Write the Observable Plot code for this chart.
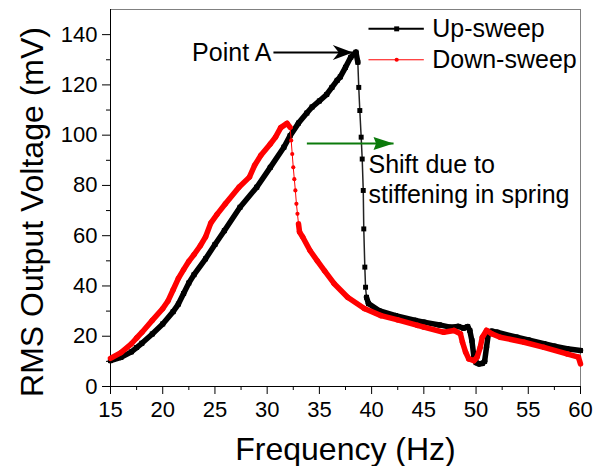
<!DOCTYPE html>
<html><head><meta charset="utf-8">
<script src="https://cdn.jsdelivr.net/npm/d3@7"></script>
<script src="https://cdn.jsdelivr.net/npm/@observablehq/plot@0.6"></script>
<style>
html,body{margin:0;padding:0;background:#fff;}
#chart svg{display:block;}
</style>
</head><body><div id="chart"></div>
<script>
// ---- data ----
const upFreq = [15,16,17,17.5,18,19,20,21,21.5,22,22.5,23,24.1,25,25.9,27.4,29,30.3,31.6,32.2,33,33.8,34.3,35,35.7,36.2,36.7,37,37.5,38,38.5,
  38.68,38.77,38.87,39.0,39.1,39.2,39.25,39.35,39.42,39.51,
  39.7,40.7,42.3,44.2,45,46.5,47.5,48.3,48.8,49.2,49.4,49.6,49.8,50.0,50.3,50.6,50.82,51.0,51.2,51.5,52,53.9,55,56.5,57.5,58.7,60];
const upVolt = [10.3,11.6,13.8,15.5,17.2,20.9,24.9,29.8,32.8,37,41.2,44.5,50.8,56.5,62,71.3,79.3,87.2,95.2,99.8,104.8,108.8,111.2,113.6,116.2,119,121.8,123.2,127,131,133,
  129,119,109.8,99.2,90.5,78,62.7,47.5,39.5,35.5,
  33,30.2,28.2,26.3,25.6,24.5,23.6,23.9,23.2,23.8,22.3,18.3,11.7,9.5,9,9.2,10,15.6,21.6,22,21.6,19.6,18.5,17,16,15,14.3];
const downFreq = [15,16,17,17.5,18,19,20,20.5,21,21.5,22,22.5,23,23.6,24.1,24.6,25.2,26,27.3,28.3,28.8,29.4,30.3,30.8,31.3,31.9,32.2,
  32.3,32.4,32.5,32.6,32.7,32.8,32.9,33.0,
  33.1,33.4,34.1,34.8,35.5,36.4,37.7,39.3,40.9,42.5,44.4,45,46.9,47.9,48.5,48.7,49.0,49.3,49.8,50.1,50.4,50.6,51.0,51.5,52.3,54.6,56.5,58.7,59.8,60];
const downVolt = [11.2,13.5,17,19.3,21.5,26.3,31,34,38.5,43,46.5,49.8,52.5,56,59.5,65,68.5,72.7,79.3,83.3,88,92,96.5,99.2,103,104.7,103.1,
  97.9,92.5,87.2,82.5,78,72.7,68.7,64.7,
  61.5,59.5,54.1,50,46,41,35.5,31,28.2,26.5,24.3,23.6,21.6,22.3,21,17.6,13.7,11,10.3,11.7,15.6,19.6,22.3,21,19.6,17.6,15.6,13,11.7,9];

const seriesNames = ["Up-sweep", "Down-sweep"];
const xTicks = [15,20,25,30,35,40,45,50,55,60];
const xMinorTicks = [17.5,22.5,27.5,32.5,37.5,42.5,47.5,52.5,57.5];
const yTicks = [0,20,40,60,80,100,120,140];
const yMinorTicks = [10,30,50,70,90,110,130];
const xLabel = "Frequency (Hz)";
const yLabel = "RMS Output Voltage (mV)";
const pointALabel = "Point A";
const shiftLabel = ["Shift due to", "stiffening in spring"];

// annotation anchors in data units
const pointAText = {f: 30.4, v: 132.6};
const pointAArrow = {f1: 30.6, f2: 38.2, v: 132.9};
const shiftArrow = {f1: 33.8, f2: 42.1, v: 96.7};
const shiftText = [{f: 39.7, v: 88.1}, {f: 39.7, v: 76.2}];
const legendRows = [{v: 142.3}, {v: 130.0}];
const legendLine = {f1: 39.7, f2: 45.0, fm: 42.4, ft: 45.8};

// ---- build ----
const up = upFreq.map((f, i) => ({f, v: upVolt[i]}));
const down = downFreq.map((f, i) => ({f, v: downVolt[i]}));
function segments(pts) {
  const out = [];
  for (let i = 1; i < pts.length; i++) {
    const a = pts[i - 1], b = pts[i];
    const slope = Math.abs((b.v - a.v) / (b.f - a.f));
    out.push({f1: a.f, v1: a.v, f2: b.f, v2: b.v, steep: slope > 35});
  }
  return out;
}
const upDense = segments(up).filter(d => !d.steep);
const downDense = segments(down).filter(d => !d.steep);

const barbHead = {draw(ctx, size) {
  const s = Math.sqrt(size / Math.PI);
  ctx.moveTo(0, 0); ctx.lineTo(-2 * s, -0.75 * s); ctx.lineTo(-1.4 * s, 0); ctx.lineTo(-2 * s, 0.75 * s); ctx.closePath();
}};
const triHead = {draw(ctx, size) {
  const s = Math.sqrt(size / Math.PI);
  ctx.moveTo(0, 0); ctx.lineTo(-2 * s, -0.65 * s); ctx.lineTo(-1.75 * s, 0); ctx.lineTo(-2 * s, 0.65 * s); ctx.closePath();
}};

const FONT = "'Liberation Sans', Arial, Helvetica, sans-serif";
const GREEN = "#0b7a0b";

const chart = Plot.plot({
  width: 601,
  height: 466,
  marginLeft: 110,
  marginRight: 21,
  marginTop: 9,
  marginBottom: 80,
  style: {fontFamily: FONT, fontSize: "22px", color: "black", background: "white"},
  x: {domain: [15, 60]},
  y: {domain: [0, 150]},
  marks: [
    // frame
    Plot.ruleY([150], {stroke: "#808080"}),
    Plot.ruleX([60], {stroke: "#808080"}),
    Plot.ruleX([15], {stroke: "black"}),
    Plot.ruleY([0], {stroke: "black"}),
    // axes
    Plot.axisX(xTicks, {tickSize: 8, tickPadding: 7, fontSize: 22, label: null}),
    Plot.axisX(xMinorTicks, {tickSize: 4, text: null, label: null}),
    Plot.axisY(yTicks, {tickSize: 8, tickPadding: 5, fontSize: 22, label: null}),
    Plot.axisY(yMinorTicks, {tickSize: 4, text: null, label: null}),
    Plot.text([xLabel], {frameAnchor: "bottom", dy: 63, fontSize: 32, textAnchor: "middle", lineAnchor: "middle"}),
    Plot.text([yLabel], {frameAnchor: "left", dx: -78, dy: 14, rotate: -90, fontSize: 32, textAnchor: "middle", lineAnchor: "middle"}),
    // up-sweep
    Plot.line(up, {x: "f", y: "v", stroke: "#222", strokeWidth: 1.5}),
    Plot.link(upDense, {x1: "f1", y1: "v1", x2: "f2", y2: "v2", stroke: "black", strokeWidth: 5.5, strokeLinecap: "round"}),
    Plot.dot(up, {x: "f", y: "v", symbol: "square", r: 2.8, fill: "black"}),
    // down-sweep
    Plot.line(down, {x: "f", y: "v", stroke: "red", strokeWidth: 1}),
    Plot.link(downDense, {x1: "f1", y1: "v1", x2: "f2", y2: "v2", stroke: "red", strokeWidth: 5.5, strokeLinecap: "round"}),
    Plot.dot(down, {x: "f", y: "v", r: 2.1, fill: "red"}),
    // Point A annotation
    Plot.text([pointALabel], {x: pointAText.f, y: pointAText.v, textAnchor: "end", lineAnchor: "middle", fontSize: 25}),
    Plot.link([pointAArrow], {x1: "f1", x2: "f2", y1: "v", y2: "v", stroke: "black", strokeWidth: 2}),
    Plot.dot([pointAArrow], {x: "f2", y: "v", symbol: barbHead, r: 10, fill: "black", stroke: "none"}),
    // shift annotation
    Plot.link([shiftArrow], {x1: "f1", x2: "f2", y1: "v", y2: "v", stroke: GREEN, strokeWidth: 2}),
    Plot.dot([shiftArrow], {x: "f2", y: "v", symbol: triHead, r: 10, fill: GREEN, stroke: "none"}),
    Plot.text(shiftText, {x: "f", y: "v", text: (d, i) => shiftLabel[i], textAnchor: "start", lineAnchor: "middle", fontSize: 25}),
    // legend
    Plot.link([legendRows[0]], {x1: legendLine.f1, x2: legendLine.f2, y1: "v", y2: "v", stroke: "black", strokeWidth: 2}),
    Plot.dot([legendRows[0]], {x: legendLine.fm, y: "v", symbol: "square", r: 2.8, fill: "black"}),
    Plot.link([legendRows[1]], {x1: legendLine.f1, x2: legendLine.f2, y1: "v", y2: "v", stroke: "red", strokeWidth: 1}),
    Plot.dot([legendRows[1]], {x: legendLine.fm, y: "v", r: 2.1, fill: "red"}),
    Plot.text(legendRows, {x: legendLine.ft, y: "v", text: (d, i) => seriesNames[i], textAnchor: "start", lineAnchor: "middle", fontSize: 25})
  ]
});
document.getElementById("chart").appendChild(chart);
</script>
</body></html>
